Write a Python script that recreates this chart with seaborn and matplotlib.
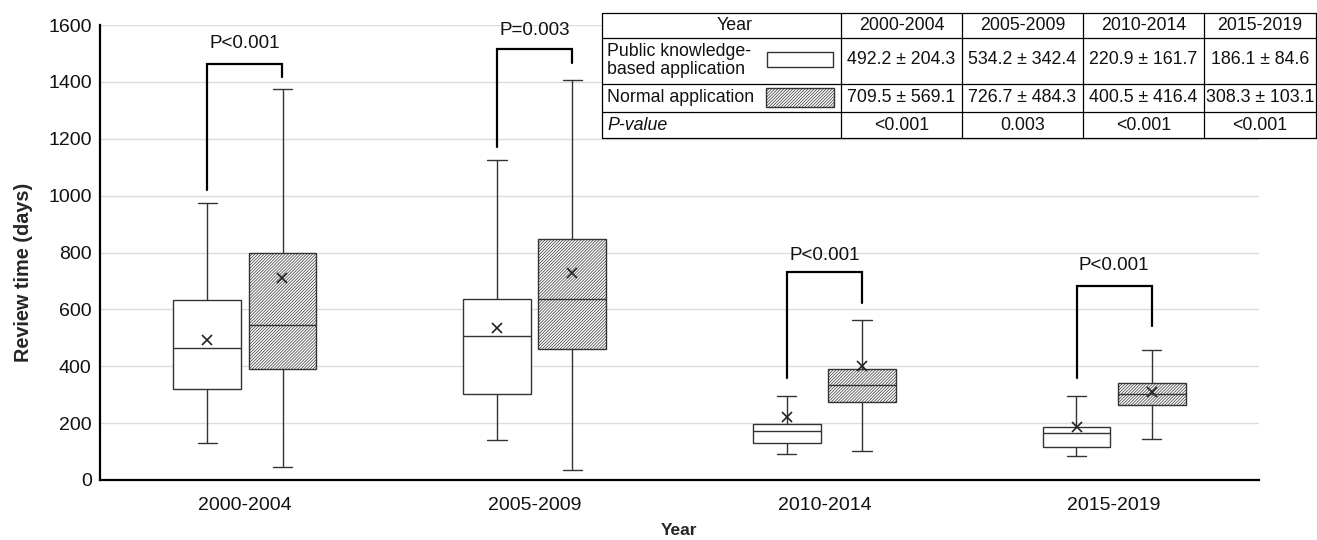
import matplotlib
matplotlib.use("Agg")
import matplotlib.pyplot as plt
from matplotlib.patches import Rectangle
import seaborn as sns
import pandas as pd

# box statistics (days)
periods = ["2000-2004", "2005-2009", "2010-2014", "2015-2019"]
groups = ["Public knowledge-based application", "Normal application"]

public_whislo = [131, 141, 92, 86]
public_q1 = [321, 303, 130, 117]
public_med = [464, 505, 172, 165]
public_q3 = [633, 638, 196, 188]
public_whishi = [975, 1124, 294, 294]

normal_whislo = [45, 36, 103, 145]
normal_q1 = [391, 462, 273, 262]
normal_med = [546, 638, 333, 304]
normal_q3 = [799, 848, 391, 340]
normal_whishi = [1375, 1408, 563, 458]

public_mean = [492.2, 534.2, 220.9, 186.1]
public_sd = [204.3, 342.4, 161.7, 84.6]
normal_mean = [709.5, 726.7, 400.5, 308.3]
normal_sd = [569.1, 484.3, 416.4, 103.1]

p_labels = ["P<0.001", "P=0.003", "P<0.001", "P<0.001"]
p_table = ["<0.001", "0.003", "<0.001", "<0.001"]

bracket_top = [1464, 1514, 732, 682]
bracket_left = [1021, 1171, 358, 358]
bracket_right = [1418, 1467, 623, 540]
p_text_y = [1536, 1582, 791, 753]

# five values per box -> quartiles/whiskers land exactly on the read values
rows = []
for i, p in enumerate(periods):
    for v in [public_whislo[i], public_q1[i], public_med[i], public_q3[i], public_whishi[i]]:
        rows.append((p, groups[0], v))
    for v in [normal_whislo[i], normal_q1[i], normal_med[i], normal_q3[i], normal_whishi[i]]:
        rows.append((p, groups[1], v))
df = pd.DataFrame(rows, columns=["period", "group", "days"])

df_mean = pd.DataFrame({
    "period": periods * 2,
    "group": [groups[0]] * 4 + [groups[1]] * 4,
    "mean": public_mean + normal_mean,
})

sns.set_style("white")
plt.rcParams["font.family"] = ["Liberation Sans", "DejaVu Sans"]
plt.rcParams["hatch.linewidth"] = 0.5

W, H = 1317, 540
fig = plt.figure(figsize=(W / 100, H / 100), dpi=100)
ax = fig.add_axes([100 / W, 60 / H, 1159 / W, 455 / H])

line_c = "#333333"
hatch = "/" * 11
sns.boxplot(data=df, x="period", y="days", hue="group", order=periods, hue_order=groups,
            whis=(0, 100), width=0.52, gap=0.1, palette={g: "white" for g in groups},
            saturation=1, linecolor=line_c, linewidth=1, legend=False,
            capwidths=0.066, ax=ax)

for patch in ax.patches:
    xs = patch.get_path().vertices[:, 0]
    cx = (xs.min() + xs.max()) / 2
    if cx > round(cx):
        patch.set_hatch(hatch)

sns.pointplot(data=df_mean, x="period", y="mean", hue="group", order=periods, hue_order=groups,
              dodge=0.258, markers="x", linestyle="none", palette={g: "#222222" for g in groups},
              errorbar=None, legend=False, markersize=7.5, markeredgewidth=1.2, ax=ax)

for i in range(len(periods)):
    x0, x1 = i - 0.129, i + 0.129
    ax.plot([x0, x0, x1, x1], [bracket_left[i], bracket_top[i], bracket_top[i], bracket_right[i]],
            color="black", lw=1.6, solid_joinstyle="miter", zorder=3)
    ax.text(i, p_text_y[i], p_labels[i], ha="center", va="center", fontsize=13.5, color="#111111")

ax.set_xlim(-0.5, 3.5)
ax.set_ylim(0, 1600)
ax.set_yticks(range(0, 1601, 200))
ax.set_xticks(range(len(periods)))
ax.set_xticklabels(periods)
ax.set_xticks([0.5, 1.5, 2.5, 3.5], minor=True)
ax.tick_params(axis="both", which="major", length=0, labelsize=14, colors="#111111")
ax.tick_params(axis="y", pad=6)
ax.tick_params(axis="x", pad=12)
ax.tick_params(axis="x", which="minor", length=4, width=1.5, direction="out", color="black")
ax.yaxis.grid(True, color="#dcdcdc", lw=1)
ax.set_axisbelow(True)
for s in ["top", "right"]:
    ax.spines[s].set_visible(False)
for s in ["left", "bottom"]:
    ax.spines[s].set_linewidth(1.6)
    ax.spines[s].set_color("black")

ax.set_xlabel("Year", fontsize=12.5, fontweight="bold")
ax.xaxis.set_label_coords(0.5, -0.095)
ax.set_ylabel("Review time (days)", fontsize=14.3, fontweight="bold")
ax.yaxis.set_label_coords(-0.058, 0.457)

# summary table, laid out in figure pixels
col_x = [601.7, 841, 962, 1083, 1204, 1316]
row_y = [12.7, 38.3, 84, 111.7, 138.3]
tab = fig.add_axes([col_x[0] / W, 1 - row_y[-1] / H, (col_x[-1] - col_x[0]) / W, (row_y[-1] - row_y[0]) / H])
tab.set_xlim(col_x[0], col_x[-1])
tab.set_ylim(row_y[-1], row_y[0])
tab.axis("off")
tab.add_patch(Rectangle((col_x[0], row_y[0]), col_x[-1] - col_x[0], row_y[-1] - row_y[0],
                        facecolor="white", edgecolor="none", zorder=0))
for y in row_y:
    tab.plot([col_x[0], col_x[-1]], [y, y], color="black", lw=0.9, clip_on=False)
for x in col_x:
    tab.plot([x, x], [row_y[0], row_y[-1]], color="black", lw=0.9, clip_on=False)

fs = 12.8
tc = "#111111"
tab.text(735, 25.5, "Year", ha="center", va="center", fontsize=fs, color=tc)
tab.text(607, 60.5, "Public knowledge-\nbased application", ha="left", va="center",
         fontsize=fs, color=tc, linespacing=1.15)
tab.text(607, 97.5, "Normal application", ha="left", va="center", fontsize=fs, color=tc)
tab.text(607, 125, "P-value", ha="left", va="center", fontsize=fs, color=tc, style="italic")
tab.add_patch(Rectangle((767, 51.7), 66, 15, facecolor="white", edgecolor=line_c, lw=1))
tab.add_patch(Rectangle((766, 88), 68, 18.7, facecolor="white", edgecolor=line_c, lw=1, hatch=hatch))
for j, p in enumerate(periods):
    cx = (col_x[j + 1] + col_x[j + 2]) / 2
    tab.text(cx, 25.5, p, ha="center", va="center", fontsize=fs, color=tc)
    tab.text(cx, 60, f"{public_mean[j]} \u00b1 {public_sd[j]}", ha="center", va="center", fontsize=fs, color=tc)
    tab.text(cx, 97.5, f"{normal_mean[j]} \u00b1 {normal_sd[j]}", ha="center", va="center", fontsize=fs, color=tc)
    tab.text(cx, 125, p_table[j], ha="center", va="center", fontsize=fs, color=tc)

fig.savefig("out.png", dpi=100)
